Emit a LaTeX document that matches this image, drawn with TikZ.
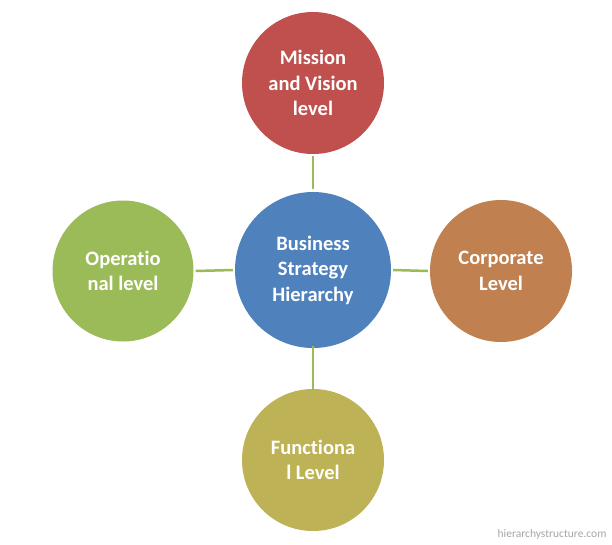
\documentclass[tikz,border=0pt]{standalone}
\usepackage{fontspec}
\setmainfont[RawFeature={-liga;-clig;-calt;-dlig}]{Carlito}
\definecolor{cblue}{HTML}{4F81BD}
\definecolor{cred}{HTML}{C0504D}
\definecolor{corange}{HTML}{C0804F}
\definecolor{cgreen}{HTML}{9BBB59}
\definecolor{colive}{HTML}{BEB256}
\begin{document}
\begin{tikzpicture}[x=1pt,y=-1pt,
  lvl/.style={circle,inner sep=0pt,text=white,font=\bfseries\fontsize{20.5}{25.5}\selectfont,align=center},
  conn/.style={draw=cgreen,line width=2.5pt}]
\useasboundingbox[fill=white] (0,0) rectangle (612,544);
\node[lvl,fill=cblue,minimum size=156pt] (c) at (313,270) {Business\\Strategy\\Hierarchy};
\node[lvl,fill=cred,minimum size=142pt] (t) at (313,83) {Mission\\and Vision\\level};
\node[lvl,fill=cgreen,minimum size=141pt] (l) at (123,271) {Operat{}io\\nal level};
\node[lvl,fill=corange,minimum size=142pt] (r) at (501,271) {Corporate\\Level};
\node[lvl,fill=colive,minimum size=142pt] (b) at (313,460) {Funct{}iona\\l Level};
\draw[conn] ([yshift=-2pt]t.south) -- ([yshift=3pt]c.north);
\draw[conn] ([xshift=-2pt]c.west) -- ([xshift=2pt]l.east);
\draw[conn] ([xshift=2pt]c.east) -- ([xshift=-2pt]r.west);
\draw[conn] ([yshift=2pt]c.south) -- ([yshift=-2pt]b.north);
\node[text=gray!70,font=\fontsize{11.5}{13}\selectfont,anchor=east] (w) at (610,534) {hierarchystructure.com};
\end{tikzpicture}
\end{document}
